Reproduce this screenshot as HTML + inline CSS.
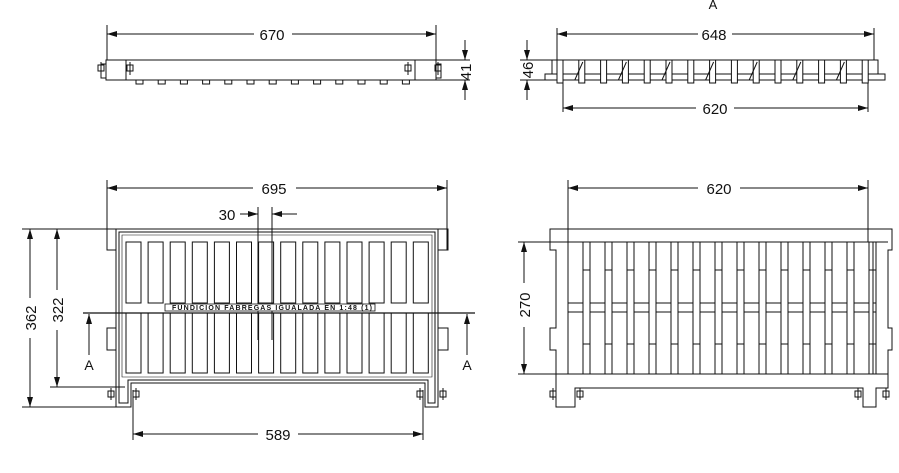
<!DOCTYPE html>
<html><head><meta charset="utf-8"><style>
html,body{margin:0;padding:0;background:#fff;width:899px;height:473px;overflow:hidden}
svg{display:block}
text{font-family:"Liberation Sans",sans-serif;fill:#111}
</style></head><body>
<svg id="s" width="899" height="473" viewBox="0 0 899 473" xmlns="http://www.w3.org/2000/svg">
<defs>
<marker id="ar" viewBox="0 0 10 6" refX="10" refY="3" markerWidth="10" markerHeight="6" orient="auto-start-reverse" markerUnits="userSpaceOnUse"><path d="M0,0L10,3L0,6z" fill="#111"/></marker>
</defs>
<g stroke="#111" stroke-width="1" fill="none" id="g">
<line x1="107" y1="25" x2="107" y2="60"/><line x1="436" y1="25" x2="436" y2="60"/>
<line x1="107" y1="34" x2="254" y2="34" marker-start="url(#ar)"/><line x1="292" y1="34" x2="436" y2="34" marker-end="url(#ar)"/>
<rect x="106" y="60" width="330" height="20"/>
<line x1="126" y1="60" x2="126" y2="80"/><line x1="415" y1="60" x2="415" y2="80"/>
<rect x="101" y="64" width="5" height="14"/><rect x="436" y="64" width="5" height="14"/>
<line x1="436" y1="60" x2="470" y2="60"/><line x1="436" y1="80" x2="470" y2="80"/>
<line x1="465" y1="40" x2="465" y2="60" marker-end="url(#ar)"/><line x1="465" y1="100" x2="465" y2="80" marker-end="url(#ar)"/>
<line x1="557" y1="28" x2="557" y2="60"/><line x1="874" y1="28" x2="874" y2="60"/>
<line x1="557" y1="34" x2="698" y2="34" marker-start="url(#ar)"/><line x1="732" y1="34" x2="874" y2="34" marker-end="url(#ar)"/>
<rect x="552" y="60" width="326" height="14"/>
<rect x="545" y="74" width="340" height="6"/>
<line x1="563" y1="80" x2="563" y2="112"/><line x1="868" y1="80" x2="868" y2="112"/>
<line x1="563" y1="108" x2="696" y2="108" marker-start="url(#ar)"/><line x1="734" y1="108" x2="868" y2="108" marker-end="url(#ar)"/>
<line x1="520" y1="60" x2="552" y2="60"/><line x1="520" y1="80" x2="545" y2="80"/>
<line x1="527" y1="40" x2="527" y2="60" marker-end="url(#ar)"/><line x1="527" y1="100" x2="527" y2="80" marker-end="url(#ar)"/>
<line x1="107" y1="180" x2="107" y2="250"/><line x1="447" y1="180" x2="447" y2="250"/>
<line x1="107" y1="188" x2="253" y2="188" marker-start="url(#ar)"/><line x1="296" y1="188" x2="447" y2="188" marker-end="url(#ar)"/>
<rect x="107" y="229" width="9" height="21"/><rect x="438" y="229" width="10" height="21"/>
<rect x="107" y="328" width="9" height="22"/><rect x="438" y="328" width="10" height="22"/>
<path d="M116,229H438V407H425V383H131V407H116Z"/>
<path d="M119,232H435V403H428V380H128V403H119Z"/>
<path d="M122,235H432V377H122Z" stroke-width="0.6"/>
<line x1="22" y1="229" x2="116" y2="229"/><line x1="22" y1="407" x2="116" y2="407"/><line x1="50" y1="387" x2="125" y2="387"/>
<line x1="30" y1="229" x2="30" y2="298" marker-start="url(#ar)"/><line x1="30" y1="338" x2="30" y2="407" marker-end="url(#ar)"/>
<line x1="57" y1="229" x2="57" y2="290" marker-start="url(#ar)"/><line x1="57" y1="330" x2="57" y2="387" marker-end="url(#ar)"/>
<line x1="258" y1="207" x2="258" y2="340"/><line x1="272" y1="207" x2="272" y2="340"/>
<line x1="240" y1="214" x2="258" y2="214" marker-end="url(#ar)"/><line x1="297" y1="214" x2="272" y2="214" marker-end="url(#ar)"/>
<line x1="133" y1="390" x2="133" y2="440"/><line x1="423" y1="390" x2="423" y2="440"/>
<line x1="133" y1="434" x2="258" y2="434" marker-start="url(#ar)"/><line x1="298" y1="434" x2="423" y2="434" marker-end="url(#ar)"/>
<line x1="568" y1="180" x2="568" y2="242"/><line x1="868" y1="180" x2="868" y2="242"/>
<line x1="568" y1="188" x2="698" y2="188" marker-start="url(#ar)"/><line x1="740" y1="188" x2="868" y2="188" marker-end="url(#ar)"/>
<path d="M550,229H892V250H888V328H892V350H888V388H876V407H863V388H575V407H556V388V350H550V328H556V250H550Z"/>
<line x1="556" y1="242" x2="888" y2="242"/>
<rect x="568" y="242" width="305" height="132"/>
<line x1="556" y1="374" x2="888" y2="374"/>
<line x1="518" y1="242" x2="568" y2="242"/><line x1="518" y1="374" x2="568" y2="374"/>
<line x1="524" y1="242" x2="524" y2="283" marker-start="url(#ar)"/><line x1="524" y1="327" x2="524" y2="374" marker-end="url(#ar)"/>
</g>
<text x="272" y="40" font-size="15" text-anchor="middle">670</text>
<text transform="translate(471,72) rotate(-90)" font-size="15" text-anchor="middle">41</text>
<text x="714" y="40" font-size="15" text-anchor="middle">648</text>
<text x="713" y="9" font-size="13" text-anchor="middle">A</text>
<text x="715" y="114" font-size="15" text-anchor="middle">620</text>
<text transform="translate(533,70) rotate(-90)" font-size="15" text-anchor="middle">46</text>
<text x="274" y="194" font-size="15" text-anchor="middle">695</text>
<text x="227" y="220" font-size="15" text-anchor="middle">30</text>
<text transform="translate(36,318) rotate(-90)" font-size="15" text-anchor="middle">362</text>
<text transform="translate(63,310) rotate(-90)" font-size="15" text-anchor="middle">322</text>
<text x="89" y="370" font-size="14" text-anchor="middle">A</text>
<text x="467" y="370" font-size="14" text-anchor="middle">A</text>
<text x="278" y="440" font-size="15" text-anchor="middle">589</text>
<text x="719" y="194" font-size="15" text-anchor="middle">620</text>
<text transform="translate(530,305) rotate(-90)" font-size="15" text-anchor="middle">270</text>
<script>
var g=document.getElementById('g'),ns='http://www.w3.org/2000/svg';
function el(t,a){var e=document.createElementNS(ns,t);for(var k in a)e.setAttribute(k,a[k]);g.appendChild(e);return e;}
for(var i=0;i<13;i++){el('rect',{x:136+i*22.2,y:80,width:7,height:4});}
[101,130,408,438].forEach(function(x){el('rect',{x:x-3,y:65,width:6,height:6});el('line',{x1:x,y1:62,x2:x,y2:75});});
for(var i=0;i<15;i++){var x=557+i*21.8;el('rect',{x:x,y:60,width:6,height:23,fill:'#fff'});if(i%2==1)el('line',{x1:x-4,y1:80,x2:x+4,y2:62});}
for(var i=0;i<14;i++){var x=126+i*22.1;el('rect',{x:x,y:242,width:15,height:61});el('rect',{x:x,y:313,width:15,height:60});}
el('line',{x1:83,y1:313,x2:475,y2:313,'stroke-width':1.3});
el('line',{x1:89,y1:355,x2:89,y2:314,'marker-end':'url(#ar)'});el('line',{x1:467,y1:355,x2:467,y2:314,'marker-end':'url(#ar)'});
el('rect',{x:165,y:304,width:210,height:7,fill:'#fff','stroke-width':0.8});
var t=document.createElementNS(ns,'text');t.setAttribute('x',272);t.setAttribute('y',310);t.setAttribute('font-size','7');t.setAttribute('font-weight','bold');t.setAttribute('text-anchor','middle');t.setAttribute('textLength','200');t.textContent='FUNDICION FABREGAS IGUALADA EN 1:48 (1)';document.getElementById('s').appendChild(t);
[111,136,420,443].forEach(function(x){el('rect',{x:x-3,y:391,width:6,height:6});el('line',{x1:x,y1:388,x2:x,y2:400});});
var xs=[568];
for(var i=0;i<14;i++){var x=583+i*22;el('rect',{x:x,y:242,width:7,height:132});el('line',{x1:x,y1:270,x2:x+7,y2:270});el('line',{x1:x,y1:344,x2:x+7,y2:344});}
for(var i=0;i<=14;i++){var a=(i==0?568:583+(i-1)*22+7),b=(i==14?873:583+i*22);el('line',{x1:a,y1:303,x2:b,y2:303});el('line',{x1:a,y1:312,x2:b,y2:312});}
[553,580,858,886].forEach(function(x){el('rect',{x:x-3,y:391,width:6,height:6});el('line',{x1:x,y1:388,x2:x,y2:400});});
</script>
</svg>
</body></html>
